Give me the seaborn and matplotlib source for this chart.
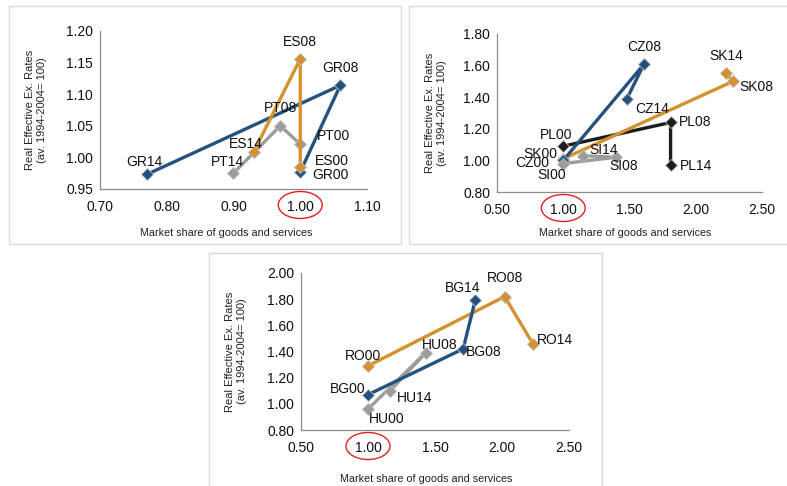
import matplotlib
matplotlib.use("Agg")
import matplotlib.pyplot as plt
import seaborn as sns
import pandas as pd
from matplotlib.patches import Ellipse, Rectangle

# ---------------- data ----------------
years = ["00", "08", "14"]

# Panel 1
gr_x = [1.00, 1.06, 0.77]
gr_y = [0.977, 1.114, 0.973]
es_x = [1.00, 1.00, 0.93]
es_y = [0.985, 1.156, 1.008]
pt_x = [1.00, 0.97, 0.90]
pt_y = [1.021, 1.050, 0.975]

# Panel 2
cz_x = [1.00, 1.61, 1.48]
cz_y = [1.00, 1.61, 1.39]
sk_x = [1.00, 2.28, 2.23]
sk_y = [1.01, 1.50, 1.55]
pl_x = [1.00, 1.81, 1.81]
pl_y = [1.09, 1.24, 0.97]
si_x = [1.00, 1.40, 1.15]
si_y = [0.98, 1.02, 1.03]

# Panel 3
ro_x = [1.00, 2.02, 2.23]
ro_y = [1.29, 1.82, 1.46]
bg_x = [1.00, 1.71, 1.80]
bg_y = [1.07, 1.42, 1.79]
hu_x = [1.00, 1.43, 1.165]
hu_y = [0.96, 1.39, 1.10]

panel1_ticks_x = [0.70, 0.80, 0.90, 1.00, 1.10]
panel1_ticks_y = [0.95, 1.00, 1.05, 1.10, 1.15, 1.20]
panel2_ticks_x = [0.50, 1.00, 1.50, 2.00, 2.50]
panel2_ticks_y = [0.80, 1.00, 1.20, 1.40, 1.60, 1.80]
panel3_ticks_x = [0.50, 1.00, 1.50, 2.00, 2.50]
panel3_ticks_y = [0.80, 1.00, 1.20, 1.40, 1.60, 1.80, 2.00]

x_title = "Market share of goods and services"
y_title = "Real Effective Ex. Rates\n(av. 1994-2004= 100)"

# ---------------- style ----------------
BLUE = "#24527E"
ORANGE = "#D4922F"
GRAY = "#9C9C9C"
BLACK = "#1C1C1C"

sns.set_theme(style="white")
plt.rcParams["font.family"] = ["Liberation Sans", "DejaVu Sans"]

fig = plt.figure(figsize=(7.87, 4.86), dpi=100)

# label offsets in pixels (dx, dy)
panels = [
    dict(
        rect=[100/787, 1-189/486, 267/787, 158/486],
        xlim=(0.70, 1.10), ylim=(0.95, 1.20),
        xt=panel1_ticks_x, yt=panel1_ticks_y,
        series=[("GR", gr_x, gr_y, BLUE, [(30, -3), (0, 17), (-2, 12)]),
                ("PT", pt_x, pt_y, GRAY, [(33, 8), (0, 18), (-6, 11)]),
                ("ES", es_x, es_y, ORANGE, [(32, 6), (0, 17), (-8, 8)])],
        frame=(9, 6, 401.5, 244),
        xlab=(0.471, -0.247), ylab=(-0.199, 0.5),
    ),
    dict(
        rect=[497/787, 1-192/486, 265/787, 158/486],
        xlim=(0.50, 2.50), ylim=(0.80, 1.80),
        xt=panel2_ticks_x, yt=panel2_ticks_y,
        series=[("PL", pl_x, pl_y, BLACK, [(-7, 11), (25, 0), (25, -1)]),
                ("SK", sk_x, sk_y, ORANGE, [(-23, 5), (23, -6), (0, 17)]),
                ("CZ", cz_x, cz_y, BLUE, [(-31, -3), (0, 17), (25, -10)]),
                ("SI", si_x, si_y, GRAY, [(-12, -11), (7, -9), (20, 6)])],
        frame=(408.5, 6, 790, 244),
        xlab=(0.482, -0.228), ylab=(-0.189, 0.5),
    ),
    dict(
        rect=[301/787, 1-430/486, 268/787, 157/486],
        xlim=(0.50, 2.50), ylim=(0.80, 2.00),
        xt=panel3_ticks_x, yt=panel3_ticks_y,
        series=[("RO", ro_x, ro_y, ORANGE, [(-5, 10), (0, 19), (22, 4)]),
                ("HU", hu_x, hu_y, GRAY, [(19, -10), (14, 8), (25, -7)]),
                ("BG", bg_x, bg_y, BLUE, [(-20, 6), (21, -3), (-13, 12)])],
        frame=(209, 253, 601.5, 490),
        xlab=(0.466, -0.280), ylab=(-0.201, 0.5),
    ),
]

H = 486
for p in panels:
    # light frame around each panel (figure pixels)
    x0, y0, x1, y1 = p["frame"]
    fig.patches.append(Rectangle((x0/787, 1-y1/H), (x1-x0)/787, (y1-y0)/H,
                                 transform=fig.transFigure, fill=False,
                                 edgecolor="#D9D9D9", linewidth=1.0, zorder=0))

    ax = fig.add_axes(p["rect"])
    rows = []
    for name, xs, ys, col, offs in p["series"]:
        for yr, xv, yv in zip(years, xs, ys):
            rows.append(dict(country=name, label=name + yr, x=xv, y=yv))
    df = pd.DataFrame(rows)
    palette = {s[0]: s[3] for s in p["series"]}
    sns.lineplot(data=df, x="x", y="y", hue="country", palette=palette,
                 sort=False, estimator=None, marker="D", markersize=6.5,
                 linewidth=2.4, legend=False, ax=ax,
                 markeredgecolor="#BBBBBB", markeredgewidth=0.6)

    for name, xs, ys, col, offs in p["series"]:
        for yr, xv, yv, (dx, dy) in zip(years, xs, ys, offs):
            ax.annotate(name + yr, (xv, yv), xytext=(dx, dy),
                        textcoords="offset pixels", ha="center", va="center",
                        fontsize=10, color="#111111", zorder=5)

    ax.set_xlim(*p["xlim"])
    ax.set_ylim(*p["ylim"])
    ax.set_xticks(p["xt"])
    ax.set_yticks(p["yt"])
    ax.set_xticklabels([f"{v:.2f}" for v in p["xt"]])
    ax.set_yticklabels([f"{v:.2f}" for v in p["yt"]])
    ax.tick_params(axis="both", labelsize=10, colors="#111111",
                   length=4, width=0.8, direction="inout")
    ax.tick_params(axis="x", pad=6)
    ax.tick_params(axis="y", pad=3)
    for s in ["top", "right"]:
        ax.spines[s].set_visible(False)
    for s in ["left", "bottom"]:
        ax.spines[s].set_color("#8C8C8C")
        ax.spines[s].set_linewidth(0.9)
    for t in ax.get_xticklines() + ax.get_yticklines():
        t.set_color("#8C8C8C")
    ax.set_facecolor("none")
    ax.set_xlabel(x_title, fontsize=7.75, color="#222222")
    ax.set_ylabel(y_title, fontsize=8, color="#222222", linespacing=1.25)
    ax.xaxis.set_label_coords(*p["xlab"])
    ax.yaxis.set_label_coords(*p["ylab"])

    # red ellipse around the 1.00 x tick label
    fig.canvas.draw()
    px, py = ax.transData.transform((1.0, p["ylim"][0]))
    e = Ellipse((px / 100, (py - 16) / 100), 0.44, 0.27,
                transform=fig.dpi_scale_trans, fill=False,
                edgecolor="#E02020", linewidth=1.0, clip_on=False)
    fig.patches.append(e)

fig.savefig("out.png", dpi=100)
